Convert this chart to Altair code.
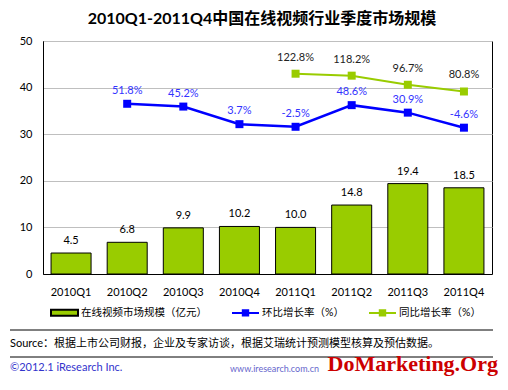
import altair as alt
import pandas as pd

# ---- data ----
quarters = ["2010Q1", "2010Q2", "2010Q3", "2010Q4", "2011Q1", "2011Q2", "2011Q3", "2011Q4"]
market_size = [4.5, 6.8, 9.9, 10.2, 10.0, 14.8, 19.4, 18.5]
qoq_growth = [None, 51.8, 45.2, 3.7, -2.5, 48.6, 30.9, -4.6]
yoy_growth = [None, None, None, None, 122.8, 118.2, 96.7, 80.8]
legend_labels = ["在线视频市场规模（亿元）", "环比增长率（%）", "同比增长率（%）"]
y_ticks = [0, 10, 20, 30, 40, 50]

title_text = "2010Q1-2011Q4中国在线视频行业季度市场规模"
source_text = "Source：根据上市公司财报，企业及专家访谈，根据艾瑞统计预测模型核算及预估数据。"
copyright_text = "©2012.1 iResearch Inc."
url_text = "www.iresearch.com.cn"
watermark_text = "DoMarketing.Org"

# ---- style ----
GREEN = "#99CC00"
BLUE = "#0000FF"
FONT = "Lato, 'Noto Sans CJK SC'"
W, H = 449, 233

df = pd.DataFrame({"quarter": quarters, "size": market_size,
                   "qoq": qoq_growth, "yoy": yoy_growth})
base = alt.Chart(df)

x_enc = alt.X("quarter:N", sort=quarters,
              scale=alt.Scale(paddingInner=0.287, paddingOuter=0.1435),
              axis=alt.Axis(title=None, labelAngle=0, ticks=False, domainColor="black",
                            labelPadding=12, labelFontSize=11, labelFont=FONT,
                            labelColor="black", grid=False))
size_scale = alt.Scale(domain=[0, 50], nice=False)
pct_scale = alt.Scale(domain=[-350, 200], nice=False)

bars = base.mark_bar(fill=GREEN, stroke="black", strokeWidth=1).encode(
    x=x_enc,
    y=alt.Y("size:Q", scale=size_scale,
            axis=alt.Axis(values=y_ticks, title=None, ticks=False, domainColor="black",
                          gridColor="#BFBFBF", labelPadding=11, labelFontSize=11,
                          labelFont=FONT, labelColor="black")))

bar_labels = base.mark_text(baseline="middle", dy=-12, fontSize=11, font=FONT,
                            color="black").encode(
    x=x_enc, y=alt.Y("size:Q", scale=size_scale, axis=None),
    text=alt.Text("size:Q", format=".1f"))

qoq_line = base.mark_line(color=BLUE, strokeWidth=2.5).encode(
    x=x_enc, y=alt.Y("qoq:Q", scale=pct_scale, axis=None))
qoq_pts = base.mark_point(shape="square", filled=True, color=BLUE, size=64,
                          opacity=1).encode(
    x=x_enc, y=alt.Y("qoq:Q", scale=pct_scale, axis=None))
qoq_text = base.transform_filter("isValid(datum.qoq)").transform_calculate(
    lbl="datum.qoq + '%'").mark_text(baseline="middle", dy=-13, fontSize=11,
                                     font=FONT, color="#3333FF").encode(
    x=x_enc, y=alt.Y("qoq:Q", scale=pct_scale, axis=None), text="lbl:N")

yoy_line = base.mark_line(color=GREEN, strokeWidth=2).encode(
    x=x_enc, y=alt.Y("yoy:Q", scale=pct_scale, axis=None))
yoy_pts = base.mark_point(shape="square", filled=True, color=GREEN, size=64,
                          opacity=1).encode(
    x=x_enc, y=alt.Y("yoy:Q", scale=pct_scale, axis=None))
yoy_text = base.transform_filter("isValid(datum.yoy)").transform_calculate(
    lbl="datum.yoy + '%'").mark_text(baseline="middle", dy=-16, fontSize=11,
                                     font=FONT, color="#222222").encode(
    x=x_enc, y=alt.Y("yoy:Q", scale=pct_scale, axis=None), text="lbl:N")

# ---- legend (real legend, custom symbols) ----
rect_path = "M-1,-0.22H1V0.22H-1Z"
line_path = "M-1,0H1M-0.2,-0.2H0.2V0.2H-0.2Z"
leg = alt.Legend(title=None, orient="none", legendX=7, legendY=257,
                 direction="horizontal", columnPadding=21, labelOffset=2,
                 labelFont=FONT, labelFontSize=10.5, labelColor="black",
                 symbolSize=729, symbolStrokeWidth=2, padding=0, labelLimit=300)
leg_df = pd.DataFrame({"series": legend_labels})
leg_layer = alt.Chart(leg_df).transform_filter("false").mark_point(
    filled=True, opacity=1, size=729).encode(
    shape=alt.Shape("series:N", sort=legend_labels,
                    scale=alt.Scale(domain=legend_labels,
                                    range=[rect_path, line_path, line_path]),
                    legend=leg),
    fill=alt.Fill("series:N", sort=legend_labels,
                  scale=alt.Scale(domain=legend_labels, range=[GREEN, BLUE, GREEN]),
                  legend=leg),
    stroke=alt.Stroke("series:N", sort=legend_labels,
                      scale=alt.Scale(domain=legend_labels,
                                      range=["black", BLUE, GREEN]),
                      legend=leg))

# ---- decorations ----
dec = alt.Chart(pd.DataFrame({"k": [0]}))
title = dec.mark_text(fontSize=16, fontWeight="bold", font=FONT, color="black",
                      baseline="middle", align="center").encode(
    x=alt.value(219), y=alt.value(-22), text=alt.value(title_text))
rule1 = dec.mark_rule(color="black", strokeWidth=1).encode(
    x=alt.value(-33), x2=alt.value(450), y=alt.value(289))
rule2 = dec.mark_rule(color="black", strokeWidth=1).encode(
    x=alt.value(-33), x2=alt.value(450), y=alt.value(316))
source = dec.mark_text(align="left", baseline="middle", fontSize=11, font=FONT,
                       color="black").encode(
    x=alt.value(-33), y=alt.value(303), text=alt.value(source_text))
copyright_t = dec.mark_text(align="left", baseline="middle", fontSize=11, font=FONT,
                            color="#3333CC").encode(
    x=alt.value(-33), y=alt.value(327), text=alt.value(copyright_text))
url_t = dec.mark_text(align="right", baseline="middle", fontSize=9, font=FONT,
                      color="#6666CC").encode(
    x=alt.value(276), y=alt.value(328), text=alt.value(url_text))
water = dec.mark_text(align="right", baseline="middle", fontSize=22,
                      fontWeight="bold", font="Liberation Serif",
                      color="#CC0000").encode(
    x=alt.value(455), y=alt.value(323), text=alt.value(watermark_text))

chart = alt.layer(
    bars, bar_labels, qoq_line, qoq_pts, qoq_text, yoy_line, yoy_pts, yoy_text,
    leg_layer, title, rule1, rule2, source, copyright_t, url_t, water
).resolve_scale(y="independent").properties(
    width=W, height=H,
    padding={"left": 35, "top": 33, "right": 6, "bottom": 102},
    autosize=alt.AutoSizeParams(type="none"),
).configure_view(stroke="black", strokeWidth=1)

chart.save("out.html", embed_options={"renderer": "svg", "actions": False})
